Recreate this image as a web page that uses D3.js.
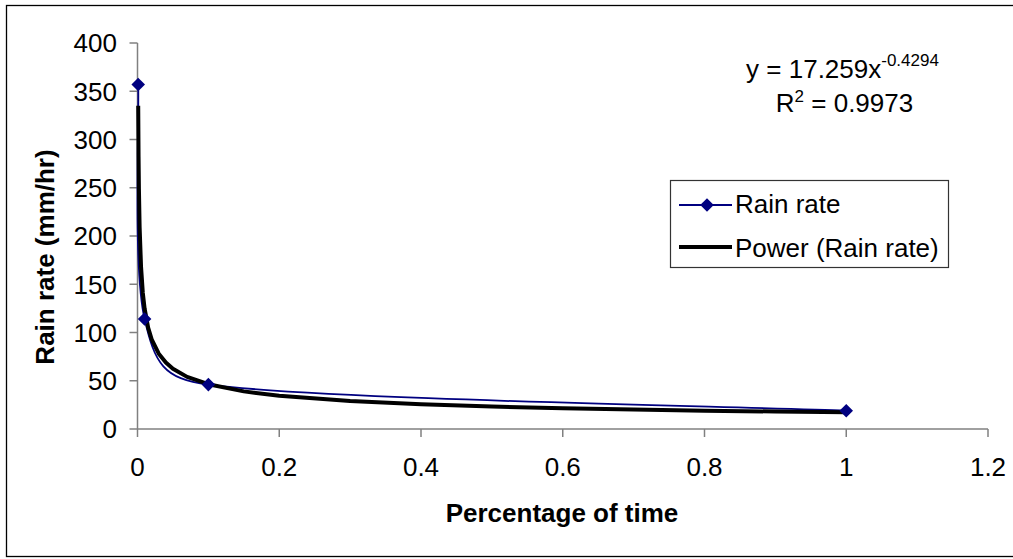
<!DOCTYPE html>
<html>
<head>
<meta charset="utf-8">
<script src="https://cdn.jsdelivr.net/npm/d3@7"></script>
<style>
  html, body { margin: 0; padding: 0; background: #fff; }
  svg { display: block; font-family: "Liberation Sans", Arial, sans-serif; }
</style>
</head>
<body>
<svg id="chart" width="1013" height="559"></svg>
<script>
// ---- data ----
const percentTime = [0.001, 0.01, 0.1, 1];
const rainRate = [357, 114, 46, 19];

// power trendline samples
const trendX = [0.001, 0.0015, 0.002, 0.003, 0.005, 0.0075, 0.01, 0.015, 0.02, 0.03, 0.04, 0.05, 0.07, 0.1, 0.15, 0.2, 0.3, 0.4, 0.5, 0.6, 0.7, 0.8, 0.9, 1.0];
const trendY = [335, 282, 249, 209, 168, 141, 125, 105, 93, 78, 69, 62.5, 54, 46.4, 39, 34.4, 28.9, 25.6, 23.2, 21.5, 20.1, 19.0, 18.1, 17.3];

const xTicks = [0, 0.2, 0.4, 0.6, 0.8, 1, 1.2];
const xTickLabels = ["0", "0.2", "0.4", "0.6", "0.8", "1", "1.2"];
const yTicks = [0, 50, 100, 150, 200, 250, 300, 350, 400];

const seriesName = "Rain rate";
const trendName = "Power (Rain rate)";
const xTitle = "Percentage of time";
const yTitle = "Rain rate (mm/hr)";

// ---- drawing ----
const svg = d3.select("#chart");
const x = d3.scaleLinear().domain([0, 1.2]).range([137.5, 988]);
const y = d3.scaleLinear().domain([0, 400]).range([429, 43]);
const axisColor = "#808080";
const blue = "#000080";

// outer frame
svg.append("rect").attr("x", 6.5).attr("y", 5.5).attr("width", 1012).attr("height", 551)
  .attr("fill", "#fff").attr("stroke", "#000").attr("stroke-width", 1.3);

// axes lines
svg.append("line").attr("x1", x(0)).attr("x2", x(1.2)).attr("y1", y(0)).attr("y2", y(0))
  .attr("stroke", axisColor).attr("stroke-width", 1.5);
svg.append("line").attr("x1", x(0)).attr("x2", x(0)).attr("y1", y(0)).attr("y2", y(400))
  .attr("stroke", axisColor).attr("stroke-width", 1.5);

// x ticks
const gx = svg.append("g");
xTicks.forEach((t, i) => {
  gx.append("line").attr("x1", x(t)).attr("x2", x(t)).attr("y1", y(0)).attr("y2", y(0) + 8)
    .attr("stroke", axisColor).attr("stroke-width", 1.5);
  gx.append("text").attr("x", x(t)).attr("y", 476).attr("text-anchor", "middle")
    .attr("font-size", 26).attr("fill", "#000").text(xTickLabels[i]);
});

// y ticks
const gy = svg.append("g");
yTicks.forEach(t => {
  gy.append("line").attr("x1", x(0) - 8).attr("x2", x(0)).attr("y1", y(t)).attr("y2", y(t))
    .attr("stroke", axisColor).attr("stroke-width", 1.5);
  gy.append("text").attr("x", 117).attr("y", y(t) + 9.3).attr("text-anchor", "end")
    .attr("font-size", 26).attr("fill", "#000").text(t);
});

// axis titles
svg.append("text").attr("x", 562).attr("y", 522).attr("text-anchor", "middle")
  .attr("font-size", 26).attr("font-weight", "bold").text(xTitle);
svg.append("text").attr("transform", "translate(54,257) rotate(-90)").attr("text-anchor", "middle")
  .attr("font-size", 26).attr("font-weight", "bold").text(yTitle);

// series line (spreadsheet-style smoothing: bezier with limited tangents)
const pts = percentTime.map((d, i) => [d, rainRate[i]]);
function smoothPath(data) {
  const p = data.map(d => [x(d[0]), y(d[1])]);
  const path = d3.path();
  path.moveTo(p[0][0], p[0][1]);
  const limit = (v, maxLen) => {
    const l = Math.hypot(v[0], v[1]);
    return l > maxLen ? [v[0] * maxLen / l, v[1] * maxLen / l] : v;
  };
  for (let i = 0; i < p.length - 1; i++) {
    const a = p[i], b = p[i + 1];
    const prev = p[i - 1] || a, next = p[i + 2] || b;
    const half = Math.hypot(b[0] - a[0], b[1] - a[1]) / 2;
    const t1 = limit([(b[0] - prev[0]) / 6, (b[1] - prev[1]) / 6], half);
    const t2 = limit([(next[0] - a[0]) / 6, (next[1] - a[1]) / 6], half);
    path.bezierCurveTo(a[0] + t1[0], a[1] + t1[1], b[0] - t2[0], b[1] - t2[1], b[0], b[1]);
  }
  return path.toString();
}
svg.append("path").attr("d", smoothPath(pts)).attr("fill", "none")
  .attr("stroke", blue).attr("stroke-width", 1.8);

// trendline
const tpts = trendX.map((d, i) => [d, trendY[i]]);
const lin = d3.line().x(d => x(d[0])).y(d => y(d[1]));
svg.append("path").attr("d", lin(tpts)).attr("fill", "none")
  .attr("stroke", "#000").attr("stroke-width", 4).attr("stroke-linejoin", "round");

// markers
const diamond = d3.symbol().type(d3.symbolSquare).size(92);
svg.append("g").selectAll("path").data(pts).join("path")
  .attr("d", diamond)
  .attr("transform", d => `translate(${x(d[0])},${y(d[1])}) rotate(45)`)
  .attr("fill", blue);

// equation text
const eq = svg.append("text").attr("x", 842.5).attr("y", 78).attr("text-anchor", "middle")
  .attr("font-size", 26).attr("fill", "#000");
eq.append("tspan").text("y = 17.259x");
eq.append("tspan").attr("font-size", 17).attr("dy", -12).text("-0.4294");

const r2 = svg.append("text").attr("x", 844.5).attr("y", 112).attr("text-anchor", "middle")
  .attr("font-size", 26).attr("fill", "#000");
r2.append("tspan").text("R");
r2.append("tspan").attr("font-size", 17).attr("dy", -10).text("2");
r2.append("tspan").attr("dy", 10).text(" = 0.9973");

// legend
const lg = svg.append("g");
lg.append("rect").attr("x", 670.5).attr("y", 180.5).attr("width", 278).attr("height", 87)
  .attr("fill", "#fff").attr("stroke", "#333").attr("stroke-width", 1.2);
lg.append("line").attr("x1", 679).attr("x2", 732).attr("y1", 205).attr("y2", 205)
  .attr("stroke", blue).attr("stroke-width", 1.8);
lg.append("path").attr("d", diamond).attr("transform", "translate(707,205) rotate(45)").attr("fill", blue);
lg.append("text").attr("x", 735).attr("y", 213).attr("font-size", 26).text(seriesName);
lg.append("line").attr("x1", 679).attr("x2", 732).attr("y1", 247).attr("y2", 247)
  .attr("stroke", "#000").attr("stroke-width", 4);
lg.append("text").attr("x", 735).attr("y", 257).attr("font-size", 26).text(trendName);
</script>
</body>
</html>
